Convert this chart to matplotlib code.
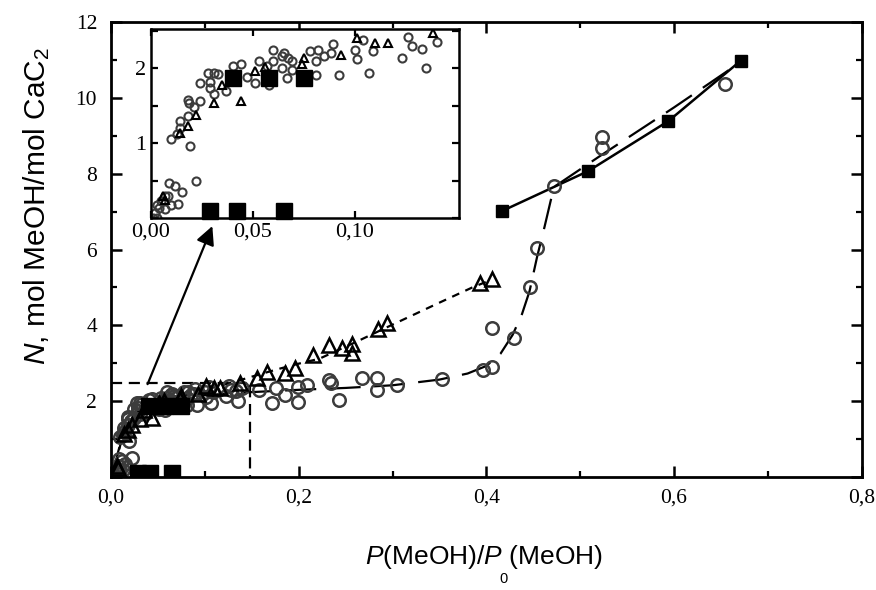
import matplotlib
matplotlib.use('Agg')
import matplotlib.pyplot as plt
from matplotlib.ticker import MultipleLocator, FuncFormatter, FixedLocator
import numpy as np

plt.rcParams['font.family'] = ['Liberation Serif', 'DejaVu Serif']
plt.rcParams['mathtext.fontset'] = 'custom'
plt.rcParams['mathtext.rm'] = 'Liberation Sans'
plt.rcParams['mathtext.it'] = 'Liberation Sans:italic'

# circles, low pressure range (also shown in the inset)
circ_x_low = [0.001, 0.003, 0.002, 0.004, 0.003, 0.005, 0.007, 0.0085, 0.007, 0.010, 0.013,
              0.009, 0.012, 0.015, 0.022, 0.010, 0.0126, 0.014, 0.014, 0.018, 0.018, 0.0185,
              0.021, 0.019, 0.024, 0.024, 0.029, 0.029, 0.028, 0.031, 0.033, 0.031, 0.037,
              0.040, 0.044, 0.047, 0.051, 0.053, 0.057, 0.058, 0.060, 0.060, 0.064, 0.065,
              0.067, 0.069, 0.064, 0.0665, 0.069, 0.078, 0.082, 0.081, 0.081, 0.085, 0.088,
              0.089, 0.092, 0.100, 0.101, 0.104, 0.107, 0.109, 0.123, 0.126, 0.128, 0.133,
              0.135, 0.140]
circ_y_low = [0.0, 0.0, 0.07, 0.14, 0.18, 0.23, 0.29, 0.29, 0.12, 0.18, 0.19,
              0.47, 0.43, 0.35, 0.49, 1.05, 1.12, 1.20, 1.29, 1.36, 1.58, 1.54,
              1.48, 0.96, 1.56, 1.80, 1.82, 1.73, 1.94, 1.94, 1.92, 1.65, 1.69,
              2.03, 2.05, 1.88, 1.80, 2.09, 2.03, 1.78, 2.09, 2.24, 2.16, 2.20,
              2.14, 2.09, 2.00, 1.87, 1.98, 2.23, 2.24, 2.09, 1.91, 2.16, 2.20,
              2.32, 1.91, 2.24, 2.12, 2.38, 1.94, 2.23, 2.14, 2.41, 2.29, 2.26,
              2.00, 2.35]
# circles, higher pressure range
circ_x_high = [0.158, 0.172, 0.176, 0.185, 0.199, 0.199, 0.209, 0.232, 0.234, 0.243, 0.267,
               0.283, 0.283, 0.305, 0.353, 0.396, 0.406, 0.406, 0.429, 0.446, 0.454, 0.472,
               0.523, 0.523, 0.654]
circ_y_high = [2.30, 1.95, 2.35, 2.16, 1.98, 2.37, 2.43, 2.56, 2.48, 2.03, 2.61,
               2.61, 2.30, 2.43, 2.59, 2.82, 2.90, 3.93, 3.67, 5.01, 6.04, 7.68,
               8.97, 8.68, 10.37]

# triangles
tri_x_low = [0.006, 0.007, 0.014, 0.018, 0.022, 0.031, 0.035, 0.044, 0.051, 0.056, 0.075,
             0.074, 0.093, 0.101, 0.110, 0.116, 0.138]
tri_y_low = [0.29, 0.24, 1.14, 1.23, 1.37, 1.54, 1.78, 1.56, 1.96, 2.01, 2.13,
             2.05, 2.18, 2.40, 2.34, 2.34, 2.47]
tri_x_high = [0.156, 0.166, 0.185, 0.196, 0.215, 0.232, 0.246, 0.257, 0.257, 0.285, 0.294,
              0.393, 0.406]
tri_y_high = [2.61, 2.77, 2.74, 2.88, 3.22, 3.48, 3.40, 3.50, 3.27, 3.90, 4.06,
              5.12, 5.22]

# filled squares
sq_x_low = [0.029, 0.042, 0.065, 0.040, 0.058, 0.075]
sq_y_low = [0.1, 0.1, 0.1, 1.87, 1.87, 1.87]
sq_x_high = [0.417, 0.5085, 0.594, 0.671]
sq_y_high = [7.02, 8.07, 9.39, 10.98]

# guide curves
circ_fit_x = [0.0, 0.004, 0.008, 0.012, 0.018, 0.025, 0.035, 0.05, 0.07, 0.1, 0.15, 0.2,
              0.25, 0.3, 0.35, 0.38, 0.4, 0.415, 0.428, 0.438, 0.446, 0.454, 0.462, 0.472,
              0.52, 0.6, 0.667]
circ_fit_y = [0.0, 0.3, 0.7, 1.05, 1.4, 1.65, 1.85, 1.98, 2.08, 2.16, 2.24, 2.3,
              2.35, 2.42, 2.57, 2.73, 2.93, 3.25, 3.75, 4.3, 4.9, 5.8, 6.6, 7.65,
              8.45, 9.75, 10.88]
tri_fit_x = [0.0, 0.005, 0.01, 0.015, 0.022, 0.03, 0.04, 0.055, 0.075, 0.1, 0.13, 0.16,
             0.18, 0.2, 0.222, 0.26, 0.3, 0.35, 0.385, 0.405]
tri_fit_y = [0.0, 0.35, 0.85, 1.15, 1.38, 1.55, 1.75, 1.97, 2.12, 2.3, 2.5, 2.72,
             2.86, 2.99, 3.12, 3.55, 4.02, 4.6, 5.0, 5.2]

# zoomed region and arrow
box_x = [0.0, 0.148, 0.148]
box_y = [2.47, 2.47, 0.0]
arrow_tail = (0.039, 2.45)
arrow_head = (0.108, 6.62)

inset_xticks = [0.0, 0.05, 0.10]
inset_yticks = [1, 2]

circ_col = '#3c3c3c'
sans = 'Liberation Sans'

fig = plt.figure(figsize=(8.76, 5.90), dpi=100)
ax = fig.add_axes([0.1267, 0.1915, 0.857, 0.771])

ax.plot(circ_fit_x, circ_fit_y, color='k', lw=1.6, dashes=(14, 6))
ax.plot(tri_fit_x, tri_fit_y, color='k', lw=1.6, dashes=(3.5, 3))
ax.plot(box_x, box_y, color='k', lw=1.6, dashes=(5, 3))
ax.plot(sq_x_high, sq_y_high, color='k', lw=1.8, marker='s', ms=8)
ax.plot(circ_x_low + circ_x_high, circ_y_low + circ_y_high, ls='none', marker='o', ms=9,
        mfc='none', mec=circ_col, mew=1.8)
ax.plot(tri_x_low + tri_x_high, tri_y_low + tri_y_high, ls='none', marker='^', ms=10,
        mfc='none', mec='k', mew=1.8)
ax.plot(sq_x_low, sq_y_low, ls='none', marker='s', ms=11, color='k')
ax.annotate('', xy=arrow_head, xytext=arrow_tail,
            arrowprops=dict(arrowstyle='-|>', color='k', lw=1.6, mutation_scale=28,
                            shrinkA=0, shrinkB=0))

ax.set_xlim(0, 0.8)
ax.set_ylim(0, 12)
ax.xaxis.set_major_locator(MultipleLocator(0.2))
ax.xaxis.set_minor_locator(MultipleLocator(0.1))
ax.yaxis.set_major_locator(MultipleLocator(2))
ax.yaxis.set_minor_locator(MultipleLocator(1))
ax.xaxis.set_major_formatter(FuncFormatter(lambda v, p: f'{v:.1f}'.replace('.', ',')))
ax.yaxis.set_major_formatter(FuncFormatter(lambda v, p: '' if v == 0 else f'{v:.0f}'))
ax.tick_params(which='both', direction='in', top=True, right=True, labelsize=15.5)
ax.tick_params(which='major', length=8, width=1.8)
ax.tick_params(which='minor', length=4.5, width=1.6)
ax.tick_params(axis='x', pad=8)
ax.tick_params(axis='y', pad=10)
for s in ax.spines.values():
    s.set_linewidth(2)

ax.set_xlabel(r'$\it{P}$(MeOH)/$\it{P}$ (MeOH)', fontsize=19, family=sans)
ax.xaxis.set_label_coords(0.497, -0.145)
ax.set_ylabel(r'$\it{N}$, mol MeOH/mol CaC$_2$', fontsize=21.5, family=sans)
ax.yaxis.set_label_coords(-0.078, 0.596)
fig.text(504 / 876, 1 - 579 / 590, '0', fontsize=10.5, family=sans,
         ha='center', va='center')

# inset
ins = fig.add_axes([0.1724, 0.6305, 0.3516, 0.3203])
ins.plot(circ_x_low, circ_y_low, ls='none', marker='o', ms=5.8, mfc='none',
         mec=circ_col, mew=1.5)
ins.plot(tri_x_low, tri_y_low, ls='none', marker='^', ms=5.8, mfc='none',
         mec='k', mew=1.5)
ins.plot(sq_x_low, sq_y_low, ls='none', marker='s', ms=11, color='k', clip_on=False)
ins.set_xlim(0, 0.151)
ins.set_ylim(0, 2.52)
ins.xaxis.set_major_locator(FixedLocator(inset_xticks))
ins.yaxis.set_major_locator(FixedLocator(inset_yticks))
ins.yaxis.set_minor_locator(MultipleLocator(0.5))
ins.xaxis.set_major_formatter(FuncFormatter(lambda v, p: f'{v:.2f}'.replace('.', ',')))
ins.yaxis.set_major_formatter(FuncFormatter(lambda v, p: f'{v:.0f}'))
ins.tick_params(which='both', direction='in', top=True, right=True, labelsize=16)
ins.tick_params(which='major', length=5, width=1.6)
ins.tick_params(which='minor', length=5, width=1.6)
for s in ins.spines.values():
    s.set_linewidth(1.8)

fig.savefig('out.png', dpi=100)
